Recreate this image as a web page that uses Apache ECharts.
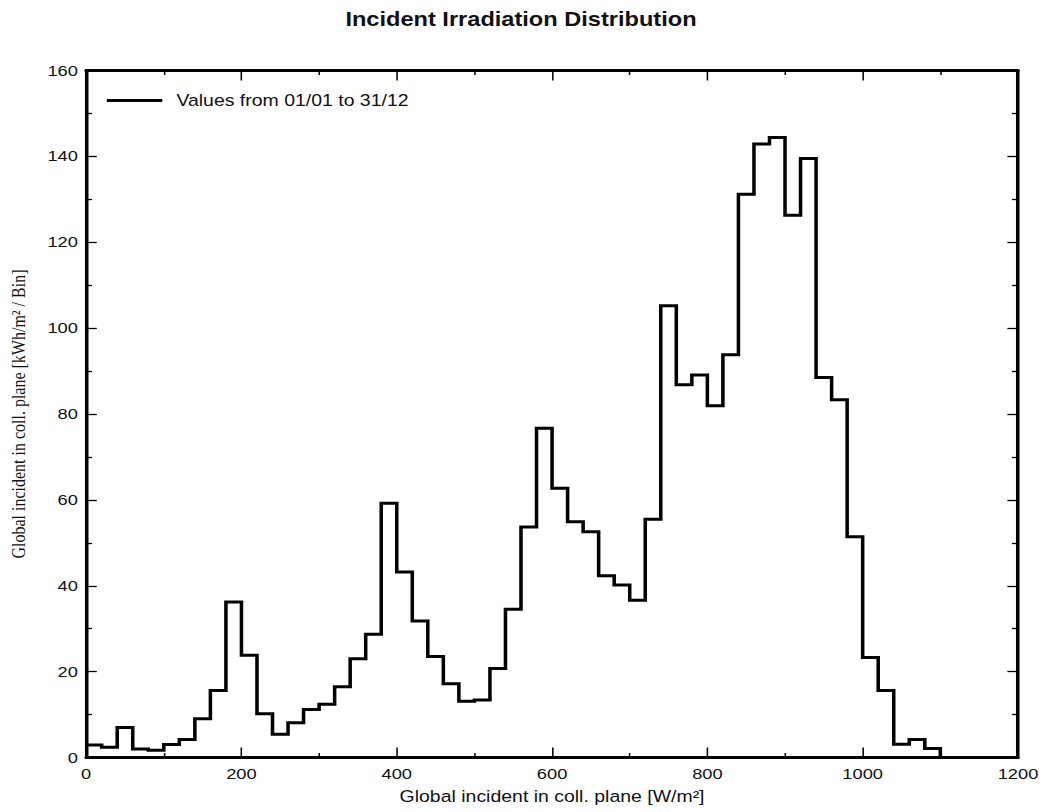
<!DOCTYPE html>
<html>
<head>
<meta charset="utf-8">
<script src="https://cdn.jsdelivr.net/npm/echarts@6/dist/echarts.min.js"></script>
<style>
  html, body { margin: 0; padding: 0; background: #fff; overflow: hidden; }
  /* Chart is laid out on a narrower canvas and widened horizontally. */
  #chart { width: 883px; height: 812px; transform: scaleX(1.18); transform-origin: 0 0; }
</style>
</head>
<body>
<div id="chart"></div>
<script>
// Bin start edges (W/m²), 20 W/m² wide bins
const binEdges = [
  0, 20, 40, 60, 80, 100, 120, 140, 160, 180,
  200, 220, 240, 260, 280, 300, 320, 340, 360, 380,
  400, 420, 440, 460, 480, 500, 520, 540, 560, 580,
  600, 620, 640, 660, 680, 700, 720, 740, 760, 780,
  800, 820, 840, 860, 880, 900, 920, 940, 960, 980,
  1000, 1020, 1040, 1060, 1080, 1100
];
// Energy per bin (kWh/m² / Bin); last entry closes the histogram at 1100
const binEnergy = [
  2.9, 2.4, 7.0, 2.0, 1.7, 3.0, 4.2, 9.0, 15.6, 36.2,
  23.8, 10.2, 5.4, 8.1, 11.2, 12.4, 16.5, 23.0, 28.7, 59.2,
  43.2, 31.8, 23.5, 17.2, 13.1, 13.4, 20.7, 34.5, 53.7, 76.7,
  62.7, 54.9, 52.6, 42.3, 40.2, 36.6, 55.5, 105.2, 86.8, 89.1,
  81.9, 93.8, 131.2, 142.9, 144.4, 126.3, 139.5, 88.5, 83.3, 51.4,
  23.3, 15.6, 3.1, 4.2, 2.1, 0
];
const seriesName = 'Values from 01/01 to 31/12';
const xTicks = { min: 0, max: 1200, interval: 200 };
const yTicks = { min: 0, max: 160, interval: 20 };

const sans = '"Liberation Sans", Arial, Helvetica, sans-serif';
const serif = '"Liberation Serif", "Times New Roman", serif';

const plainNumber = v => String(v);

const frameAxis = {
  axisLine: { show: true, onZero: false, lineStyle: { color: '#000', width: 3 } },
  splitLine: { show: false }
};

function xAxisDef(position, showLabels) {
  return Object.assign({}, frameAxis, {
    type: 'value', position: position,
    min: xTicks.min, max: xTicks.max, interval: xTicks.interval,
    axisTick: { show: true, inside: true, length: 10, lineStyle: { color: '#000', width: 1.3 } },
    minorTick: { show: true, splitNumber: 2, length: 4.5, lineStyle: { color: '#000', width: 1.3 } },
    axisLabel: { show: showLabels, margin: 8, color: '#111', fontFamily: sans, fontSize: 15.5, formatter: plainNumber }
  });
}
function yAxisDef(position, showLabels) {
  return Object.assign({}, frameAxis, {
    type: 'value', position: position,
    min: yTicks.min, max: yTicks.max, interval: yTicks.interval,
    axisTick: { show: true, inside: true, length: 9, lineStyle: { color: '#000', width: 1.3 } },
    minorTick: { show: true, splitNumber: 2, length: 5, lineStyle: { color: '#000', width: 1.3 } },
    axisLabel: { show: showLabels, margin: 7, color: '#111', fontFamily: sans, fontSize: 15.5, formatter: plainNumber }
  });
}

const bottomX = xAxisDef('bottom', true);
bottomX.name = 'Global incident in coll. plane [W/m²]';
bottomX.nameLocation = 'middle';
bottomX.nameGap = 31;
bottomX.nameTextStyle = { color: '#111', fontFamily: sans, fontSize: 16.5 };

const leftY = yAxisDef('left', true);
leftY.name = 'Global incident in coll. plane [kWh/m² / Bin]';
leftY.nameLocation = 'middle';
leftY.nameGap = 49;
leftY.nameTextStyle = { color: '#111', fontFamily: serif, fontSize: 16 };

const chart = echarts.init(document.getElementById('chart'), null, { renderer: 'svg' });
chart.setOption({
  animation: false,
  backgroundColor: '#fff',
  title: {
    text: 'Incident Irradiation Distribution',
    left: 'center', top: 9, padding: 0,
    textStyle: { color: '#111', fontFamily: sans, fontSize: 20, fontWeight: 'bold' }
  },
  legend: {
    data: [seriesName],
    left: 90.5, top: 92, padding: 0,
    icon: 'rect', itemWidth: 47, itemHeight: 3,
    itemStyle: { color: '#000' },
    textStyle: { color: '#111', fontFamily: sans, fontSize: 16.5, padding: [0, 0, 0, 7] }
  },
  grid: { left: 70, right: 20.3, top: 70.5, bottom: 54.5, containLabel: false },
  xAxis: [bottomX, xAxisDef('top', false)],
  yAxis: [leftY, yAxisDef('right', false)],
  series: [{
    name: seriesName,
    type: 'line',
    step: 'end',
    symbol: 'none',
    xAxisIndex: 0, yAxisIndex: 0,
    lineStyle: { color: '#000', width: 3, join: 'miter' },
    itemStyle: { color: '#000' },
    data: binEdges.map((x, i) => [x, binEnergy[i]])
  }]
});
</script>
</body>
</html>
